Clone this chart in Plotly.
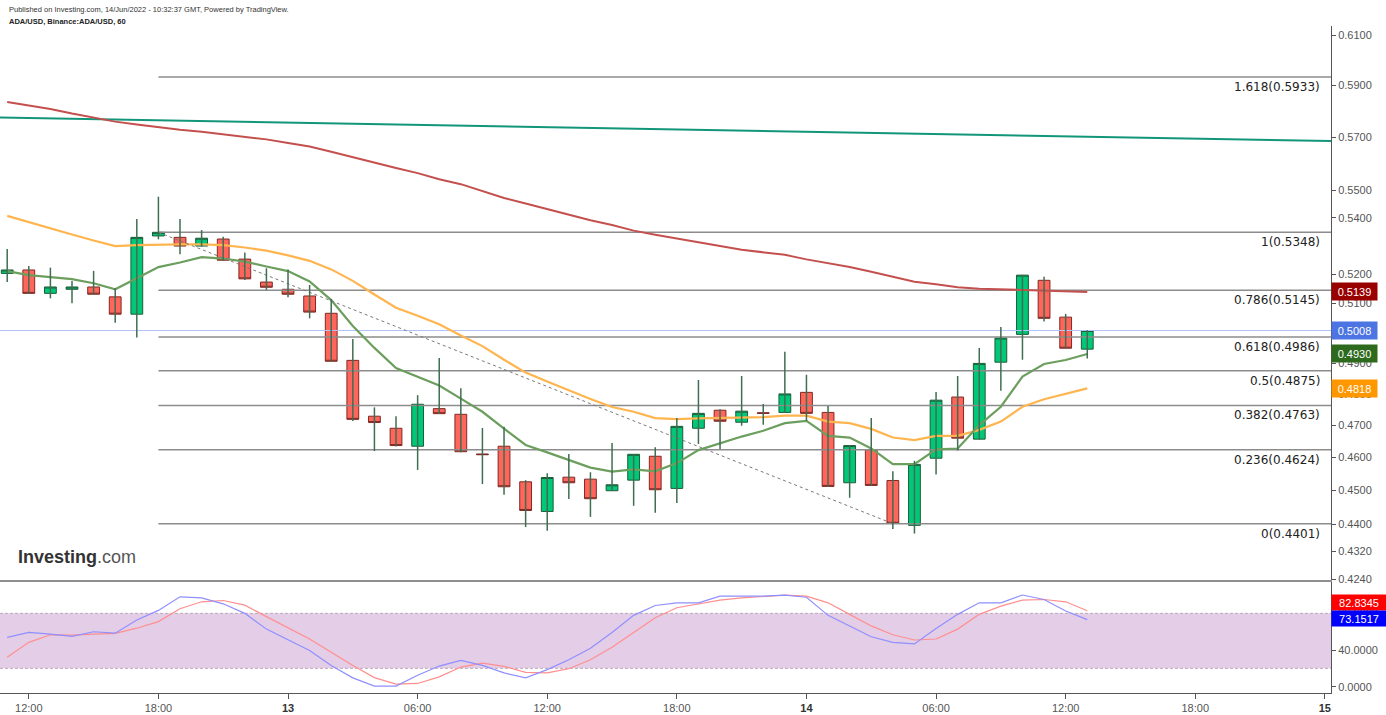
import math
import pandas as pd
import plotly.graph_objects as go

# ---------------- data ----------------
start_time = "2022-06-12 11:00"
n_bars = 51
times = pd.date_range(start_time, periods=n_bars, freq="h")

opens = [0.5203, 0.5215, 0.5134, 0.5148, 0.5156, 0.5122, 0.5063, 0.5335, 0.5330, 0.5299,
         0.5324, 0.5253, 0.5173, 0.5148, 0.5125, 0.5066, 0.4909, 0.4729, 0.4691, 0.4635,
         0.4753, 0.4735, 0.4611, 0.4635, 0.4526, 0.4437, 0.4540, 0.4534, 0.4499, 0.4531,
         0.4604, 0.4506, 0.4691, 0.4748, 0.4710, 0.4740, 0.4741, 0.4805, 0.4741, 0.4523,
         0.4624, 0.4530, 0.4396, 0.4598, 0.4790, 0.4657, 0.4903, 0.4995, 0.5179, 0.5053,
         0.4946]
highs = [0.5289, 0.5229, 0.5223, 0.5177, 0.5212, 0.5152, 0.5396, 0.5477, 0.5396, 0.5356,
         0.5332, 0.5276, 0.5221, 0.5217, 0.5163, 0.5115, 0.4980, 0.4757, 0.4729, 0.4796,
         0.4917, 0.4818, 0.4692, 0.4696, 0.4531, 0.4552, 0.4611, 0.4555, 0.4645, 0.4611,
         0.4632, 0.4723, 0.4845, 0.4751, 0.4858, 0.4768, 0.4937, 0.4862, 0.4761, 0.4638,
         0.4723, 0.4558, 0.4590, 0.4806, 0.4858, 0.4950, 0.5020, 0.5198, 0.5191, 0.5064,
         0.5009]
lows = [0.5173, 0.5132, 0.5117, 0.5100, 0.5130, 0.5034, 0.4985, 0.5323, 0.5270, 0.5298,
        0.5248, 0.5180, 0.5146, 0.5121, 0.5049, 0.4905, 0.4714, 0.4620, 0.4634, 0.4562,
        0.4736, 0.4616, 0.4519, 0.4487, 0.4391, 0.4380, 0.4474, 0.4421, 0.4498, 0.4454,
        0.4433, 0.4462, 0.4642, 0.4626, 0.4699, 0.4702, 0.4740, 0.4714, 0.4511, 0.4478,
        0.4514, 0.4385, 0.4372, 0.4548, 0.4622, 0.4656, 0.4810, 0.4911, 0.5038, 0.4948,
        0.4915]
closes = [0.5215, 0.5134, 0.5156, 0.5156, 0.5131, 0.5063, 0.5330, 0.5348, 0.5299, 0.5327,
          0.5249, 0.5184, 0.5155, 0.5131, 0.5070, 0.4906, 0.4719, 0.4709, 0.4637, 0.4767,
          0.4737, 0.4618, 0.4609, 0.4511, 0.4440, 0.4539, 0.4523, 0.4475, 0.4517, 0.4610,
          0.4502, 0.4697, 0.4738, 0.4713, 0.4745, 0.4738, 0.4800, 0.4738, 0.4512, 0.4637,
          0.4515, 0.4402, 0.4579, 0.4780, 0.4660, 0.4899, 0.4983, 0.5197, 0.5049, 0.4949,
          0.5008]

ma_fast = [0.5211, 0.5197, 0.5190, 0.5183, 0.5169, 0.5148, 0.5186, 0.5225, 0.5241, 0.5260,
           0.5255, 0.5244, 0.5227, 0.5211, 0.5175, 0.5111, 0.5023, 0.4950, 0.4884, 0.4856,
           0.4827, 0.4785, 0.4743, 0.4690, 0.4639, 0.4616, 0.4592, 0.4569, 0.4557, 0.4564,
           0.4558, 0.4583, 0.4623, 0.4645, 0.4665, 0.4683, 0.4707, 0.4714, 0.4667, 0.4662,
           0.4628, 0.4580, 0.4580, 0.4625, 0.4628, 0.4701, 0.4759, 0.4856, 0.4897, 0.4910,
           0.4930]
ma_mid = [0.5407, 0.5384, 0.5363, 0.5340, 0.5319, 0.5299, 0.5302, 0.5304, 0.5305, 0.5305,
          0.5302, 0.5294, 0.5283, 0.5266, 0.5247, 0.5217, 0.5177, 0.5130, 0.5085, 0.5058,
          0.5029, 0.4991, 0.4956, 0.4911, 0.4869, 0.4840, 0.4811, 0.4784, 0.4758, 0.4743,
          0.4723, 0.4720, 0.4722, 0.4723, 0.4724, 0.4726, 0.4731, 0.4731, 0.4712, 0.4707,
          0.4689, 0.4662, 0.4654, 0.4667, 0.4667, 0.4686, 0.4712, 0.4759, 0.4783, 0.4800,
          0.4818]
ma_slow = [0.5835, 0.5821, 0.5808, 0.5790, 0.5773, 0.5759, 0.5748, 0.5737, 0.5728, 0.5720,
           0.5711, 0.5702, 0.5691, 0.5677, 0.5664, 0.5644, 0.5623, 0.5603, 0.5583, 0.5564,
           0.5541, 0.5523, 0.5496, 0.5472, 0.5452, 0.5431, 0.5410, 0.5391, 0.5374, 0.5354,
           0.5339, 0.5325, 0.5312, 0.5299, 0.5286, 0.5277, 0.5268, 0.5252, 0.5239, 0.5225,
           0.5209, 0.5192, 0.5174, 0.5165, 0.5155, 0.5150, 0.5148, 0.5146, 0.5144, 0.5141,
           0.5139]

stoch_k = [53.8, 59.2, 57.4, 54.8, 59.9, 58.4, 72.8, 83.2, 98.0, 96.9,
           90.4, 80.0, 62.8, 50.9, 39.4, 23.2, 9.6, 0.6, 0.6, 12.5,
           22.5, 28.6, 23.2, 15.0, 9.6, 18.6, 29.3, 41.9, 59.2, 77.8,
           88.6, 91.5, 91.5, 98.7, 98.7, 98.7, 99.8, 97.6, 77.8, 66.3,
           54.5, 48.4, 46.6, 63.5, 78.9, 91.5, 91.5, 100.0, 95.1, 82.5,
           73.1517]
stoch_d = [32.2, 48.4, 56.6, 56.3, 57.4, 58.1, 63.8, 71.0, 85.0, 92.6,
           94.0, 89.0, 76.4, 64.5, 52.0, 37.6, 23.2, 9.9, 2.8, 3.5,
           10.7, 21.4, 25.7, 22.2, 15.7, 15.0, 19.6, 29.3, 43.0, 59.2,
           75.3, 86.1, 90.5, 94.4, 96.9, 98.3, 99.8, 98.7, 91.5, 78.9,
           66.3, 56.6, 50.9, 52.0, 62.8, 78.9, 87.9, 94.4, 95.1, 92.6,
           82.8345]
stoch_band = [20, 80]

fib_ratios = ["1.618", "1", "0.786", "0.618", "0.5", "0.382", "0.236", "0"]
fib_levels = [0.5933, 0.5348, 0.5145, 0.4986, 0.4875, 0.4763, 0.4624, 0.4401]
fib_start = "2022-06-12 18:00"
fib_diag_x = ["2022-06-12 18:00", "2022-06-14 04:00"]
fib_diag_y = [0.5348, 0.4401]

trend_x = ["2022-06-12 10:40", "2022-06-15 00:17"]
trend_y = [0.5775, 0.5685]

last_price = 0.5008

x_range = ["2022-06-12 10:40", "2022-06-15 00:17"]
price_range = [0.423823, 0.61394]
stoch_range = [-6.9, 114.2]

price_ticks = [0.4240, 0.4320, 0.4400, 0.4500, 0.4600, 0.4700, 0.4800, 0.4900,
               0.5000, 0.5100, 0.5200, 0.5400, 0.5500, 0.5700, 0.5900, 0.6100]
stoch_ticks = [0, 40, 80]
time_ticks = ["2022-06-12 12:00", "2022-06-12 18:00", "2022-06-13 00:00", "2022-06-13 06:00",
              "2022-06-13 12:00", "2022-06-13 18:00", "2022-06-14 00:00", "2022-06-14 06:00",
              "2022-06-14 12:00", "2022-06-14 18:00", "2022-06-15 00:00"]
time_labels = ["12:00", "18:00", "13", "06:00", "12:00", "18:00", "14", "06:00", "12:00", "18:00", "15"]

# ---------------- figure ----------------
AX_FONT = dict(family="Arial, Liberation Sans, sans-serif", size=11, color="#555555")
fig = go.Figure()

# fib horizontal lines
fx, fy = [], []
for lv in fib_levels:
    fx += [fib_start, x_range[1], None]
    fy += [lv, lv, None]
fig.add_trace(go.Scatter(x=fx, y=fy, mode="lines", line=dict(color="#8c8c8c", width=1.5),
                         xaxis="x", yaxis="y", hoverinfo="skip", showlegend=False))
# last price line
fig.add_trace(go.Scatter(x=x_range, y=[last_price, last_price], mode="lines",
                         line=dict(color="#b3c3f5", width=1), xaxis="x", yaxis="y",
                         hoverinfo="skip", showlegend=False))
# trend line
fig.add_trace(go.Scatter(x=trend_x, y=trend_y, mode="lines", line=dict(color="#12967a", width=2),
                         xaxis="x", yaxis="y", hoverinfo="skip", showlegend=False))
# moving averages
fig.add_trace(go.Scatter(x=times, y=ma_slow, mode="lines", line=dict(color="#c4504e", width=2),
                         xaxis="x", yaxis="y", showlegend=False))
fig.add_trace(go.Scatter(x=times, y=ma_mid, mode="lines", line=dict(color="#ffb54f", width=2.2),
                         xaxis="x", yaxis="y", showlegend=False))
fig.add_trace(go.Scatter(x=times, y=ma_fast, mode="lines", line=dict(color="#6c9e5e", width=2.2),
                         xaxis="x", yaxis="y", showlegend=False))
# fib diagonal
fig.add_trace(go.Scatter(x=fib_diag_x, y=fib_diag_y, mode="lines",
                         line=dict(color="#7a7a7a", width=1, dash="3px,3px"),
                         xaxis="x", yaxis="y", hoverinfo="skip", showlegend=False))
# wicks
wx, wy = [], []
for t, h, l in zip(times, highs, lows):
    wx += [t, t, None]
    wy += [h, l, None]
fig.add_trace(go.Scatter(x=wx, y=wy, mode="lines", line=dict(color="#3f6e52", width=1.5),
                         xaxis="x", yaxis="y", hoverinfo="skip", showlegend=False))
# candle bodies
body_hi = [max(o, c) for o, c in zip(opens, closes)]
body_lo = [min(o, c) for o, c in zip(opens, closes)]
fig.add_trace(go.Candlestick(x=times, open=opens, high=body_hi, low=body_lo, close=closes,
                             increasing=dict(fillcolor="#00c878", line=dict(color="#1e5c37", width=1)),
                             decreasing=dict(fillcolor="#ff655a", line=dict(color="#7f2a25", width=1)),
                             whiskerwidth=0, xaxis="x", yaxis="y", showlegend=False))

# stochastic band
fig.add_trace(go.Scatter(x=x_range, y=[stoch_band[1]] * 2, mode="lines",
                         line=dict(color="#b9a9b9", width=1, dash="3px,2px"),
                         xaxis="x2", yaxis="y2", hoverinfo="skip", showlegend=False))
fig.add_trace(go.Scatter(x=x_range, y=[stoch_band[0]] * 2, mode="lines", fill="tonexty",
                         fillcolor="#e4cde6", line=dict(color="#b9a9b9", width=1, dash="3px,2px"),
                         xaxis="x2", yaxis="y2", hoverinfo="skip", showlegend=False))
fig.add_trace(go.Scatter(x=times, y=stoch_d, mode="lines", line=dict(color="#ff8f8f", width=1.2),
                         xaxis="x2", yaxis="y2", showlegend=False))
fig.add_trace(go.Scatter(x=times, y=stoch_k, mode="lines", line=dict(color="#8f8fff", width=1.2),
                         xaxis="x2", yaxis="y2", showlegend=False))

H = 715
T, B = 26, 22
plot_h = H - T - B
main_bottom = (H - B - 580) / plot_h
stoch_top = (H - B - 582) / plot_h

annotations = []
# fib labels
for r, lv in zip(fib_ratios, fib_levels):
    annotations.append(dict(x=1322 / 1331, xref="paper", y=math.log10(lv), yref="y",
                            text=f"{r}({lv:.4f})", showarrow=False, xanchor="right", yanchor="top",
                            yshift=-1, font=dict(family="DejaVu Sans", size=12, color="#222222")))
# price labels
for val, col in [(ma_slow[-1], "#990000"), (last_price, "#4d74e3"), (ma_fast[-1], "#2e6a1e"),
                 (ma_mid[-1], "#ff9800")]:
    annotations.append(dict(x=1, xref="paper", y=math.log10(val), yref="y", text=f"{val:.4f}",
                            showarrow=False, xanchor="left", yanchor="middle", bgcolor=col,
                            width=42, height=14, borderpad=1.5,
                            font=dict(family="Arial, Liberation Sans", size=11, color="white")))
for val, col, sh in [(stoch_d[-1], "#ff0000", 8), (stoch_k[-1], "#0000ff", 1.5)]:
    annotations.append(dict(x=1, xref="paper", y=val, yref="y2", yshift=sh, text=f"{val:.4f}",
                            showarrow=False, xanchor="left", yanchor="middle", bgcolor=col,
                            width=52, height=13, borderpad=1,
                            font=dict(family="Arial, Liberation Sans", size=11, color="white")))
# header
annotations.append(dict(x=7 / 1331, xref="paper", y=(H - B - 9) / plot_h, yref="paper",
                        text="Published on Investing.com, 14/Jun/2022 - 10:32:37 GMT, Powered by TradingView.",
                        showarrow=False, xanchor="left", yanchor="middle",
                        font=dict(family="Arial, Liberation Sans", size=7.5, color="#333333")))
annotations.append(dict(x=7 / 1331, xref="paper", y=(H - B - 21) / plot_h, yref="paper",
                        text="<b>ADA/USD, Binance:ADA/USD, 60</b>",
                        showarrow=False, xanchor="left", yanchor="middle",
                        font=dict(family="Arial, Liberation Sans", size=7.5, color="#222222")))
# logo
annotations.append(dict(x=16 / 1331, xref="paper", y=(H - B - 557) / plot_h, yref="paper",
                        text="<b>Investing</b><span style='color:#555555'>.com</span>",
                        showarrow=False, xanchor="left", yanchor="middle",
                        font=dict(family="Arial, Liberation Sans", size=18, color="#333333")))

time_text = [f"<b><span style='color:#333333'>{t}</span></b>" if ":" not in t else t for t in time_labels]

fig.update_layout(
    width=1386, height=H,
    margin=dict(l=0, r=55, t=T, b=B),
    paper_bgcolor="white", plot_bgcolor="white",
    boxgap=0.22,
    showlegend=False,
    hovermode=False,
    annotations=annotations,
    xaxis=dict(domain=[0, 1], anchor="y", type="date", range=x_range, showticklabels=False,
               showgrid=False, zeroline=False, showline=True, linecolor="#8f8f8f", linewidth=2,
               ticks="", rangeslider=dict(visible=False)),
    yaxis=dict(domain=[main_bottom, 1], anchor="x", type="log", side="right",
               range=[math.log10(price_range[0]), math.log10(price_range[1])],
               tickvals=price_ticks, ticktext=[f"{v:.4f}" for v in price_ticks],
               ticks="outside", ticklen=4, tickcolor="#555555", showline=True,
               linecolor="#555555", linewidth=1, showgrid=False, zeroline=False, tickfont=AX_FONT),
    xaxis2=dict(domain=[0, 1], anchor="y2", type="date", range=x_range,
                tickvals=time_ticks, ticktext=time_text, ticks="outside", ticklen=5,
                tickcolor="#555555", showline=True, linecolor="#555555", linewidth=1,
                showgrid=False, zeroline=False, tickfont=AX_FONT),
    yaxis2=dict(domain=[0, stoch_top], anchor="x2", side="right", range=stoch_range,
                tickvals=stoch_ticks, ticktext=[f"{v:.4f}" for v in stoch_ticks],
                ticks="outside", ticklen=4, tickcolor="#555555", showline=True,
                linecolor="#555555", linewidth=1, showgrid=False, zeroline=False, tickfont=AX_FONT),
)

fig.write_html("out.html")
